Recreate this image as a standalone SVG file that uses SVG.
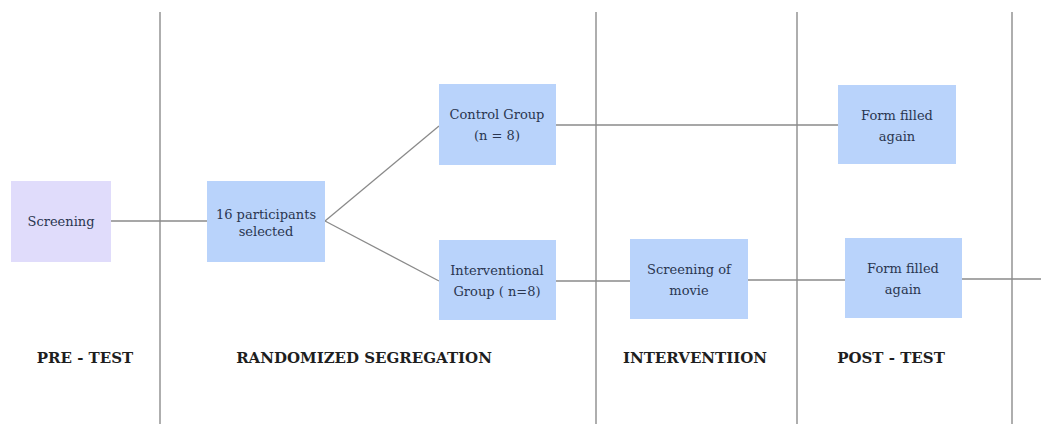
<svg xmlns="http://www.w3.org/2000/svg" width="1041" height="426" viewBox="0 0 1041 426">
<style>
.bg{fill:#ffffff}
.div{stroke:#9a9a9a;stroke-width:1.6;fill:none}
.con{stroke:#8a8a8a;stroke-width:1.3;fill:none}
.box{fill:#b9d3fb}
.scr{fill:#e0dcfb}
.t{font-family:"DejaVu Serif","Liberation Serif",serif;font-size:13px;fill:#2a3650;text-anchor:middle}
.h{font-family:"DejaVu Serif","Liberation Serif",serif;font-size:15px;font-weight:bold;fill:#1e1e1e;text-anchor:middle}
</style>
<rect class="bg" x="0" y="0" width="1041" height="426"/>
<g id="dividers">
<line class="div" x1="160" y1="12" x2="160" y2="424"/>
<line class="div" x1="596" y1="12" x2="596" y2="424"/>
<line class="div" x1="797" y1="12" x2="797" y2="424"/>
<line class="div" x1="1012" y1="12" x2="1012" y2="424"/>
</g>
<g id="connectors">
<line class="con" x1="111" y1="221" x2="207" y2="221"/>
<line class="con" x1="325" y1="221" x2="439" y2="126"/>
<line class="con" x1="325" y1="221" x2="439" y2="281"/>
<line class="con" x1="556" y1="125" x2="838" y2="125"/>
<line class="con" x1="556" y1="281" x2="630" y2="281"/>
<line class="con" x1="748" y1="280" x2="845" y2="280"/>
<line class="con" x1="962" y1="279" x2="1041" y2="279"/>
</g>
<g id="screening">
<rect class="scr" x="11" y="181" width="100" height="81"/>
<text class="t" x="61" y="226">Screening</text>
</g>
<g id="participants">
<rect class="box" x="207" y="181" width="118" height="81"/>
<text class="t" x="266" y="219">16 participants</text>
<text class="t" x="266" y="236">selected</text>
</g>
<g id="control">
<rect class="box" x="439" y="84" width="117" height="81"/>
<text class="t" x="497" y="119">Control Group</text>
<text class="t" x="497" y="140">(n = 8)</text>
</g>
<g id="interventional">
<rect class="box" x="439" y="240" width="117" height="80"/>
<text class="t" x="497" y="275">Interventional</text>
<text class="t" x="497" y="296">Group ( n=8)</text>
</g>
<g id="movie">
<rect class="box" x="630" y="239" width="118" height="80"/>
<text class="t" x="689" y="274">Screening of</text>
<text class="t" x="689" y="295">movie</text>
</g>
<g id="form-top">
<rect class="box" x="838" y="85" width="118" height="79"/>
<text class="t" x="897" y="120">Form filled</text>
<text class="t" x="897" y="141">again</text>
</g>
<g id="form-bottom">
<rect class="box" x="845" y="238" width="117" height="80"/>
<text class="t" x="903" y="273">Form filled</text>
<text class="t" x="903" y="294">again</text>
</g>
<g id="labels">
<text class="h" x="85" y="363">PRE - TEST</text>
<text class="h" x="364" y="363">RANDOMIZED SEGREGATION</text>
<text class="h" x="695" y="363">INTERVENTIION</text>
<text class="h" x="891" y="363">POST - TEST</text>
</g>
</svg>
